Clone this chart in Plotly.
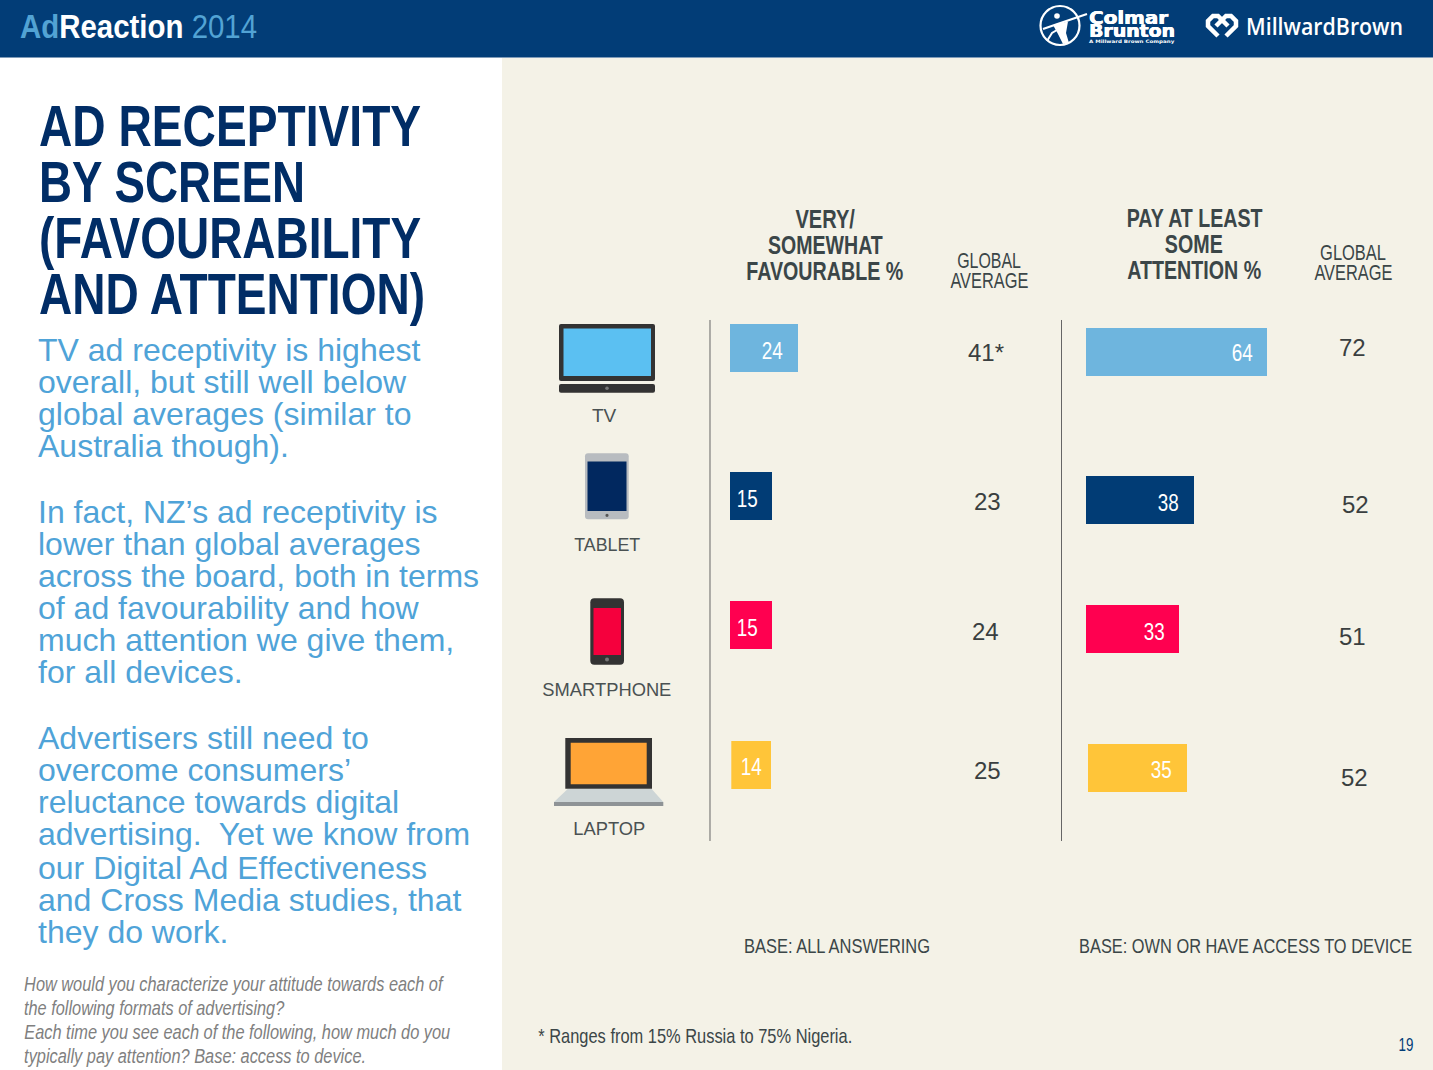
import json
import plotly.graph_objects as go

# ---- data
devices = ["TV", "TABLET", "SMARTPHONE", "LAPTOP"]
favourable = [24, 15, 15, 14]
favourable_global = ["41*", "23", "24", "25"]
attention = [64, 38, 33, 35]
attention_global = ["72", "52", "51", "52"]
bar_colors = ["#6EB5DE", "#013C75", "#FF0050", "#FFC539"]

title_lines = ["AD RECEPTIVITY", "BY SCREEN", "(FAVOURABILITY", "AND ATTENTION)"]
body_lines = [
    "TV ad receptivity is highest", "overall, but still well below", "global averages (similar to", "Australia though).",
    "In fact, NZ\u2019s ad receptivity is", "lower than global averages", "across the board, both in terms",
    "of ad favourability and how", "much attention we give them,", "for all devices.",
    "Advertisers still need to", "overcome consumers\u2019", "reluctance towards digital",
    "advertising.  Yet we know from", "our Digital Ad Effectiveness", "and Cross Media studies, that", "they do work.",
]
note_lines = [
    "How would you characterize your attitude towards each of",
    "the following formats of advertising?",
    "Each time you see each of the following, how much do you",
    "typically pay attention? Base: access to device.",
]

# ---- page geometry (pixels)
W, H = 1433, 1070
SANS = "Liberation Sans"
DARK = "#3B4648"
PX_PER_UNIT = 2.83

def fx(p): return p / W
def fy(p): return 1 - p / H

annotations, shapes = [], []
fit_widths = {}

def T(x, y, s, size, color=DARK, font=SANS, anchor="center", fit=None, weight=None, shadow=None):
    if fit:
        fit_widths[len(annotations)] = [fit, anchor]
    f = dict(family=font, size=size, color=color)
    if weight:
        f["weight"] = weight
    if shadow:
        f["shadow"] = shadow
    annotations.append(dict(x=fx(x), y=fy(y), xref="paper", yref="paper", text=s, showarrow=False,
                            xanchor=anchor, yanchor="middle", borderpad=0, borderwidth=0, font=f))

def R(x0, y0, x1, y1, color):
    shapes.append(dict(type="rect", xref="paper", yref="paper", x0=fx(x0), x1=fx(x1), y0=fy(y0), y1=fy(y1),
                       fillcolor=color, line=dict(width=0), layer="below"))

def _conv(path):
    out = []
    for t in path.split():
        cmd = ""
        if t[0].isalpha():
            cmd, t = t[0], t[1:]
        if t:
            a, b = t.split(",")
            out.append(f"{cmd}{fx(float(a)):.6f},{fy(float(b)):.6f}")
        else:
            out.append(cmd)
    return " ".join(out)

def P(path, fill=None, stroke=None, w=0):
    shapes.append(dict(type="path", xref="paper", yref="paper", path=_conv(path),
                       fillcolor=fill if fill else "rgba(0,0,0,0)",
                       line=dict(color=stroke if stroke else "rgba(0,0,0,0)", width=w), layer="below"))

def RR(x0, y0, x1, y1, r, color):
    P(f"M{x0+r},{y0} L{x1-r},{y0} Q{x1},{y0} {x1},{y0+r} L{x1},{y1-r} Q{x1},{y1} {x1-r},{y1} "
      f"L{x0+r},{y1} Q{x0},{y1} {x0},{y1-r} L{x0},{y0+r} Q{x0},{y0} {x0+r},{y0} Z", color)

def C(cx, cy, r, fill=None, stroke=None, w=0):
    shapes.append(dict(type="circle", xref="paper", yref="paper", x0=fx(cx-r), x1=fx(cx+r), y0=fy(cy+r), y1=fy(cy-r),
                       fillcolor=fill if fill else "rgba(0,0,0,0)",
                       line=dict(color=stroke if stroke else "rgba(0,0,0,0)", width=w), layer="below"))

# ---- panels
R(502, 57, W, H, "#F4F2E7")
R(0, 0, W, 57, "#023D77")
R(0, 57, W, 58, "#7F9BB8")

# ---- header
T(20, 26, "<b><span style='color:#52A3D4'>Ad</span><span style='color:#FFFFFF'>Reaction</span></b>"
          "<span style='color:#52A3D4'> 2014</span>", 34, "#FFFFFF", SANS, "left", fit=237)

# Colmar Brunton logo
C(1060, 25.5, 19.5, None, "#FFFFFF", 2.2)
P("M1043,29 L1056,24.5 L1087,14", None, "#FFFFFF", 2.2)
P("M1053,25 L1068,21.5 L1066,33 L1069,43 L1063,44 L1058,34 Z", "#FFFFFF")
P("M1047,41 L1052,33 L1057,30", None, "#FFFFFF", 2)
C(1057, 16, 2.8, "#FFFFFF")
BOLDER = "0.5px 0 0 #FFFFFF, -0.3px 0 0 #FFFFFF"
T(1089, 18, "<b>Colmar</b>", 17, "#FFFFFF", "DejaVu Sans", "left", fit=79, shadow=BOLDER)
T(1089, 31, "<b>Brunton</b>", 17, "#FFFFFF", "DejaVu Sans", "left", fit=86, shadow=BOLDER)
T(1089, 41, "<b>A Millward Brown Company</b>", 4.6, "#FFFFFF", "DejaVu Sans", "left", fit=86)

# MillwardBrown logo
P("M1218,36 L1208,26 L1208,21 L1213,16 L1218,16 L1228,26", None, "#FFFFFF", 4.5)
P("M1226,36 L1236,26 L1236,21 L1231,16 L1226,16 L1216,26", None, "#FFFFFF", 4.5)
T(1246, 26, "MillwardBrown", 23, "#FFFFFF", "Open Sans", "left", fit=157, weight=600)

# ---- left column
title_w = [382, 266, 382, 386]
for i, (s, w) in enumerate(zip(title_lines, title_w)):
    T(39, 126 + i * 56, f"<b>{s}</b>", 57, "#012D66", SANS, "left", fit=w)
body_y = [350, 382, 414, 446, 512, 544, 576, 608, 640, 672, 738, 770, 802, 834, 868, 900, 932]
for y, s in zip(body_y, body_lines):
    T(38, y, s, 32, "#4FA3D8", SANS, "left")
note_w = [420, 261, 426, 342]
for i, (s, w) in enumerate(zip(note_lines, note_w)):
    T(24, 984 + i * 24, f"<i>{s}</i>", 20, "#808080", SANS, "left", fit=w)

# ---- column heads
for y, s, w in zip([219, 245, 271], ["VERY/", "SOMEWHAT", "FAVOURABLE %"], [60, 115, 157]):
    T(825, y, f"<b>{s}</b>", 25, DARK, SANS, fit=w)
for y, s, w in zip([218, 244, 270], ["PAY AT LEAST", "SOME", "ATTENTION %"], [136, 58, 134]):
    T(1194, y, f"<b>{s}</b>", 25, DARK, SANS, fit=w)
for x, ys, gw in [(989, (260, 280), 64), (1353, (253, 273), 66)]:
    T(x, ys[0], "GLOBAL", 22, DARK, SANS, fit=gw)
    T(x, ys[1], "AVERAGE", 22, DARK, SANS, fit=78)

# ---- axis rules
for x in (710, 1061.5):
    P(f"M{x},320 L{x},841", None, "#666666", 1)

# ---- device icons
RR(559, 324, 655, 381, 2, "#333333"); R(563.5, 328.5, 651, 376, "#5BC0F2")
RR(559, 384, 655, 392.7, 2, "#333333"); C(607, 388.3, 1.8, "#777777")
RR(585, 453.3, 628.7, 519.3, 3, "#B8BCC0"); R(587.5, 461.5, 626.5, 511, "#01285F"); C(607, 515.3, 1.6, "#555555")
RR(590.3, 598.3, 624, 664.7, 4, "#333333"); R(593.5, 608, 621, 655, "#F5003D"); C(607, 659.5, 2, "#777777")
R(565.3, 738, 652, 788.7, "#333333"); R(570.7, 742.7, 646.7, 784.3, "#FFA436")
P("M567.7,789 L651.7,789 L663.3,802 L554,802 Z", "#CDD5D6"); R(554, 802, 663.3, 806, "#8E9396")

# ---- device labels
for (x, y), s, w in zip([(604, 415), (607, 544), (607, 689), (609, 828)], devices, [None, 66, 129, 72]):
    T(x, y, s, 19, "#4A5152", SANS, fit=w)

# ---- bars on their own small axes
fig = go.Figure()
fav_top = [324, 472, 601, 741]
att_top = [328, 476, 605, 744]
fav_left = [730, 730, 730, 731.3]
att_left = [1086, 1086, 1086, 1087.5]
BAR_H = 48
layout_axes = {}
n = 0
for values, tops, lefts in [(favourable, fav_top, fav_left), (attention, att_top, att_left)]:
    for d, v, c, top, left in zip(devices, values, bar_colors, tops, lefts):
        n += 1
        suffix = "" if n == 1 else str(n)
        fig.add_trace(go.Bar(x=[v], y=[d], orientation="h", marker=dict(color=c, line=dict(width=0)),
                             xaxis=f"x{suffix}", yaxis=f"y{suffix}", showlegend=False, hoverinfo="skip"))
        layout_axes[f"xaxis{suffix}"] = dict(domain=[fx(left), fx(left + 100 * PX_PER_UNIT)], range=[0, 100], visible=False,
                                             anchor=f"y{suffix}", fixedrange=True)
        layout_axes[f"yaxis{suffix}"] = dict(domain=[fy(top + BAR_H), fy(top)], type="category", visible=False,
                                             anchor=f"x{suffix}", fixedrange=True)

# ---- value labels
for (x, y), v in zip([(772, 351), (747, 498), (747, 627), (751, 766)], favourable):
    T(x, y, str(v), 24, "#FFFFFF", SANS, fit=21)
for (x, y), v in zip([(1242, 353), (1168, 502), (1154, 631), (1161, 769)], attention):
    T(x, y, str(v), 24, "#FFFFFF", SANS, fit=21)
for (x, y), v in zip([(986, 353), (987, 501), (985, 631), (987, 770)], favourable_global):
    T(x, y, v, 24, "#3A3F40", SANS)
for (x, y), v in zip([(1352, 347), (1355, 504), (1352, 636), (1354, 777)], attention_global):
    T(x, y, v, 24, "#3A3F40", SANS)

# ---- footers
T(744, 945, "BASE: ALL ANSWERING", 21, DARK, SANS, "left", fit=186)
T(1079, 945, "BASE: OWN OR HAVE ACCESS TO DEVICE", 21, DARK, SANS, "left", fit=333)
T(538, 1036, "* Ranges from 15% Russia to 75% Nigeria.", 20, DARK, SANS, "left", fit=314)
T(1406, 1045, "19", 18, "#023D77", SANS, fit=15)

fig.update_layout(width=W, height=H, margin=dict(l=0, r=0, t=0, b=0), autosize=False,
                  paper_bgcolor="#FFFFFF", plot_bgcolor="rgba(0,0,0,0)", barmode="overlay", bargap=0,
                  shapes=shapes, annotations=annotations, showlegend=False, **layout_axes)

# the original's condensed type has no installed counterpart: squeeze those labels horizontally
post = """
document.body.style.margin='0';document.documentElement.style.overflow='hidden';
var FIT=%s;
function fitText(){
  document.querySelectorAll('.annotation').forEach(function(a){
    var f=FIT[a.getAttribute('data-index')]; if(!f) return;
    var t=a.querySelector('text.annotation-text'); if(!t) return;
    var b=t.getBBox(); if(!b.width) return;
    var ax=f[1]==='left'?b.x:b.x+b.width/2;
    t.setAttribute('transform','translate('+ax+',0) scale('+(f[0]/b.width)+',1) translate('+(-ax)+',0)');
  });
}
var gd=document.querySelector('.plotly-graph-div');
fitText(); if(gd&&gd.on){gd.on('plotly_afterplot',fitText);}
setTimeout(fitText,50);setTimeout(fitText,300);
""" % json.dumps(fit_widths)

fig.write_html("out.html", config={"displayModeBar": False}, post_script=post)
